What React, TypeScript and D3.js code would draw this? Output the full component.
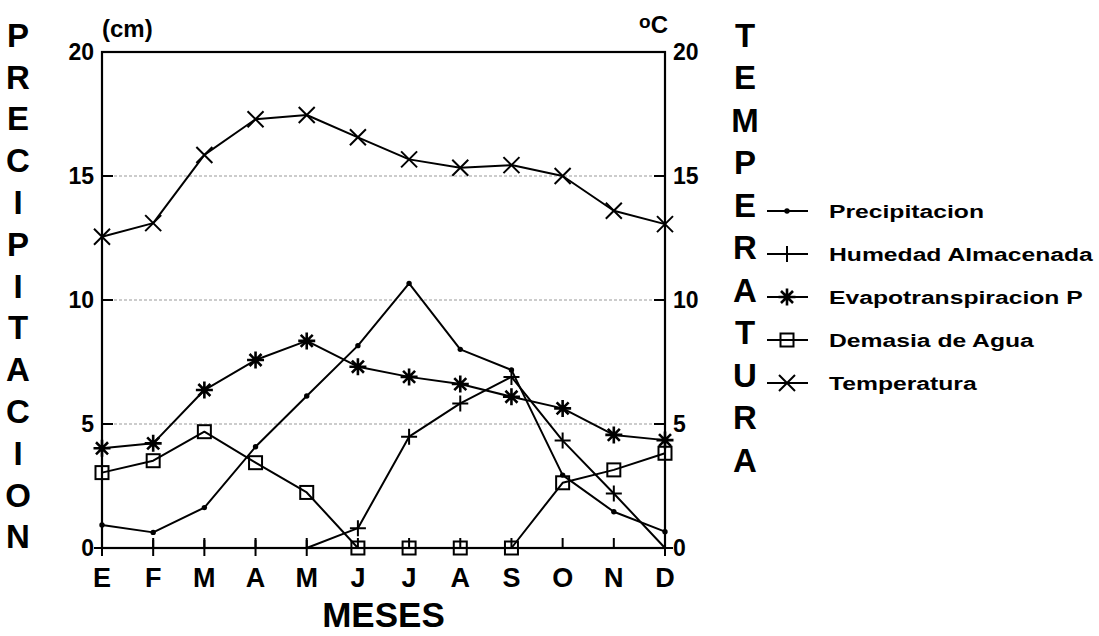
import React from "react";
import * as d3 from "d3";

const months = ["E", "F", "M", "A", "M", "J", "J", "A", "S", "O", "N", "D"];
const precipitacion = [0.93, 0.63, 1.63, 4.08, 6.13, 8.16, 10.67, 8.01, 7.18, 2.94, 1.46, 0.66];
const humedad = [0, 0, 0, 0, 0, 0.8, 4.49, 5.83, 6.9, 4.33, 2.2, 0];
const evapotranspiracion = [4.02, 4.22, 6.37, 7.58, 8.35, 7.31, 6.9, 6.61, 6.1, 5.63, 4.56, 4.35];
const demasia = [3.04, 3.52, 4.69, 3.44, 2.24, 0, 0, 0, 0, 2.63, 3.15, 3.82];
const temperatura = [12.55, 13.1, 15.85, 17.29, 17.46, 16.56, 15.67, 15.33, 15.44, 15.0, 13.6, 13.06];
const yTicks = [0, 5, 10, 15, 20];
const gridTicks = [5, 10, 15];
const legendLabels = ["Precipitacion", "Humedad Almacenada", "Evapotranspiracion P", "Demasia de Agua", "Temperatura"];
const leftTitle = "PRECIPITACION";
const rightTitle = "TEMPERATURA";

type Kind = "dot" | "plus" | "star" | "square" | "times";

const FONT = "'Liberation Sans', Arial, Helvetica, sans-serif";

function Marker({ kind, cx, cy }: { kind: Kind; cx: number; cy: number }) {
  if (kind === "dot") return <circle cx={cx} cy={cy} r={2.7} fill="#000" />;
  if (kind === "plus") {
    const r = 8;
    return (
      <path d={`M${cx - r},${cy}H${cx + r}M${cx},${cy - r}V${cy + r}`} stroke="#000" strokeWidth={2} fill="none" />
    );
  }
  if (kind === "star") {
    const r = 8.5;
    const parts: string[] = [];
    for (let i = 0; i < 4; i++) {
      const a = (i * Math.PI) / 4;
      const dx = r * Math.cos(a);
      const dy = r * Math.sin(a);
      parts.push(`M${cx - dx},${cy - dy}L${cx + dx},${cy + dy}`);
    }
    return <path d={parts.join("")} stroke="#000" strokeWidth={2.6} fill="none" />;
  }
  if (kind === "square") {
    const s = 6.5;
    return <rect x={cx - s} y={cy - s} width={2 * s} height={2 * s} stroke="#000" strokeWidth={2} fill="none" />;
  }
  const r = 8;
  return (
    <path d={`M${cx - r},${cy - r}L${cx + r},${cy + r}M${cx - r},${cy + r}L${cx + r},${cy - r}`} stroke="#000" strokeWidth={2} fill="none" />
  );
}

export default function App() {
  const left = 102;
  const right = 665;
  const top = 52;
  const bottom = 548;
  const x = d3.scaleLinear().domain([0, months.length - 1]).range([left, right]);
  const y = d3.scaleLinear().domain([0, 20]).range([bottom, top]);
  const line = d3
    .line<number>()
    .x((_, i) => x(i))
    .y((d) => y(d));

  const series: { data: number[]; kind: Kind }[] = [
    { data: precipitacion, kind: "dot" },
    { data: humedad, kind: "plus" },
    { data: evapotranspiracion, kind: "star" },
    { data: demasia, kind: "square" },
    { data: temperatura, kind: "times" },
  ];

  return (
    <svg
      width={1099}
      height={636}
      style={{ position: "absolute", left: 0, top: 0, background: "#fff" }}
      fontFamily={FONT}
      fontWeight="bold"
    >
      <rect x={0} y={0} width={1099} height={636} fill="#fff" />
      {gridTicks.map((t) => (
        <line key={t} x1={left + 12} x2={right - 12} y1={y(t)} y2={y(t)} stroke="#9a9a9a" strokeWidth={1.2} strokeDasharray="3,2" />
      ))}
      {gridTicks.map((t) => (
        <g key={"tk" + t}>
          <line x1={left} x2={left + 11} y1={y(t)} y2={y(t)} stroke="#000" strokeWidth={2} />
          <line x1={right - 11} x2={right} y1={y(t)} y2={y(t)} stroke="#000" strokeWidth={2} />
        </g>
      ))}
      {months.map((m, i) => (
        <line key={"mt" + i} x1={x(i)} x2={x(i)} y1={bottom} y2={bottom - 10} stroke="#000" strokeWidth={2} />
      ))}
      <rect x={left} y={top} width={right - left} height={bottom - top} fill="none" stroke="#000" strokeWidth={2.2} />
      {series.map((s, si) => (
        <g key={"s" + si}>
          <path d={line(s.data) || ""} fill="none" stroke="#000" strokeWidth={2} strokeLinejoin="round" />
          {s.data.map((v, i) => (
            <Marker key={i} kind={s.kind} cx={x(i)} cy={y(v)} />
          ))}
        </g>
      ))}
      {yTicks.map((t) => (
        <text key={"l" + t} x={94} y={y(t)} dy="0.36em" textAnchor="end" fontSize={23}>
          {t}
        </text>
      ))}
      {yTicks.map((t) => (
        <text key={"r" + t} x={673} y={y(t)} dy="0.36em" textAnchor="start" fontSize={23}>
          {t}
        </text>
      ))}
      <text x={102} y={37} fontSize={24}>
        (cm)
      </text>
      <text x={668} y={33} textAnchor="end" fontSize={24}>
        <tspan fontSize={19} dy={-5}>o</tspan>
        <tspan dy={5}>C</tspan>
      </text>
      {months.map((m, i) => (
        <text key={"m" + i} x={x(i)} y={587} textAnchor="middle" fontSize={27}>
          {m}
        </text>
      ))}
      <text x={(left + right) / 2} y={627} textAnchor="middle" fontSize={35}>
        MESES
      </text>
      {leftTitle.split("").map((c, i) => (
        <text key={"lt" + i} x={18} y={35 + i * 41.8} dy="0.36em" textAnchor="middle" fontSize={33}>
          {c}
        </text>
      ))}
      {rightTitle.split("").map((c, i) => (
        <text key={"rt" + i} x={745} y={35 + i * 42.5} dy="0.36em" textAnchor="middle" fontSize={33}>
          {c}
        </text>
      ))}
      {legendLabels.map((lab, i) => {
        const ly = 211 + i * 43;
        return (
          <g key={"lg" + i}>
            <line x1={767} x2={808} y1={ly} y2={ly} stroke="#000" strokeWidth={2} />
            <Marker kind={series[i].kind} cx={787} cy={ly} />
            <text
              x={0}
              y={0}
              dy="0.36em"
              fontSize={19}
              transform={`translate(829,${ly}) scale(1.3,1)`}
            >
              {lab}
            </text>
          </g>
        );
      })}
    </svg>
  );
}
